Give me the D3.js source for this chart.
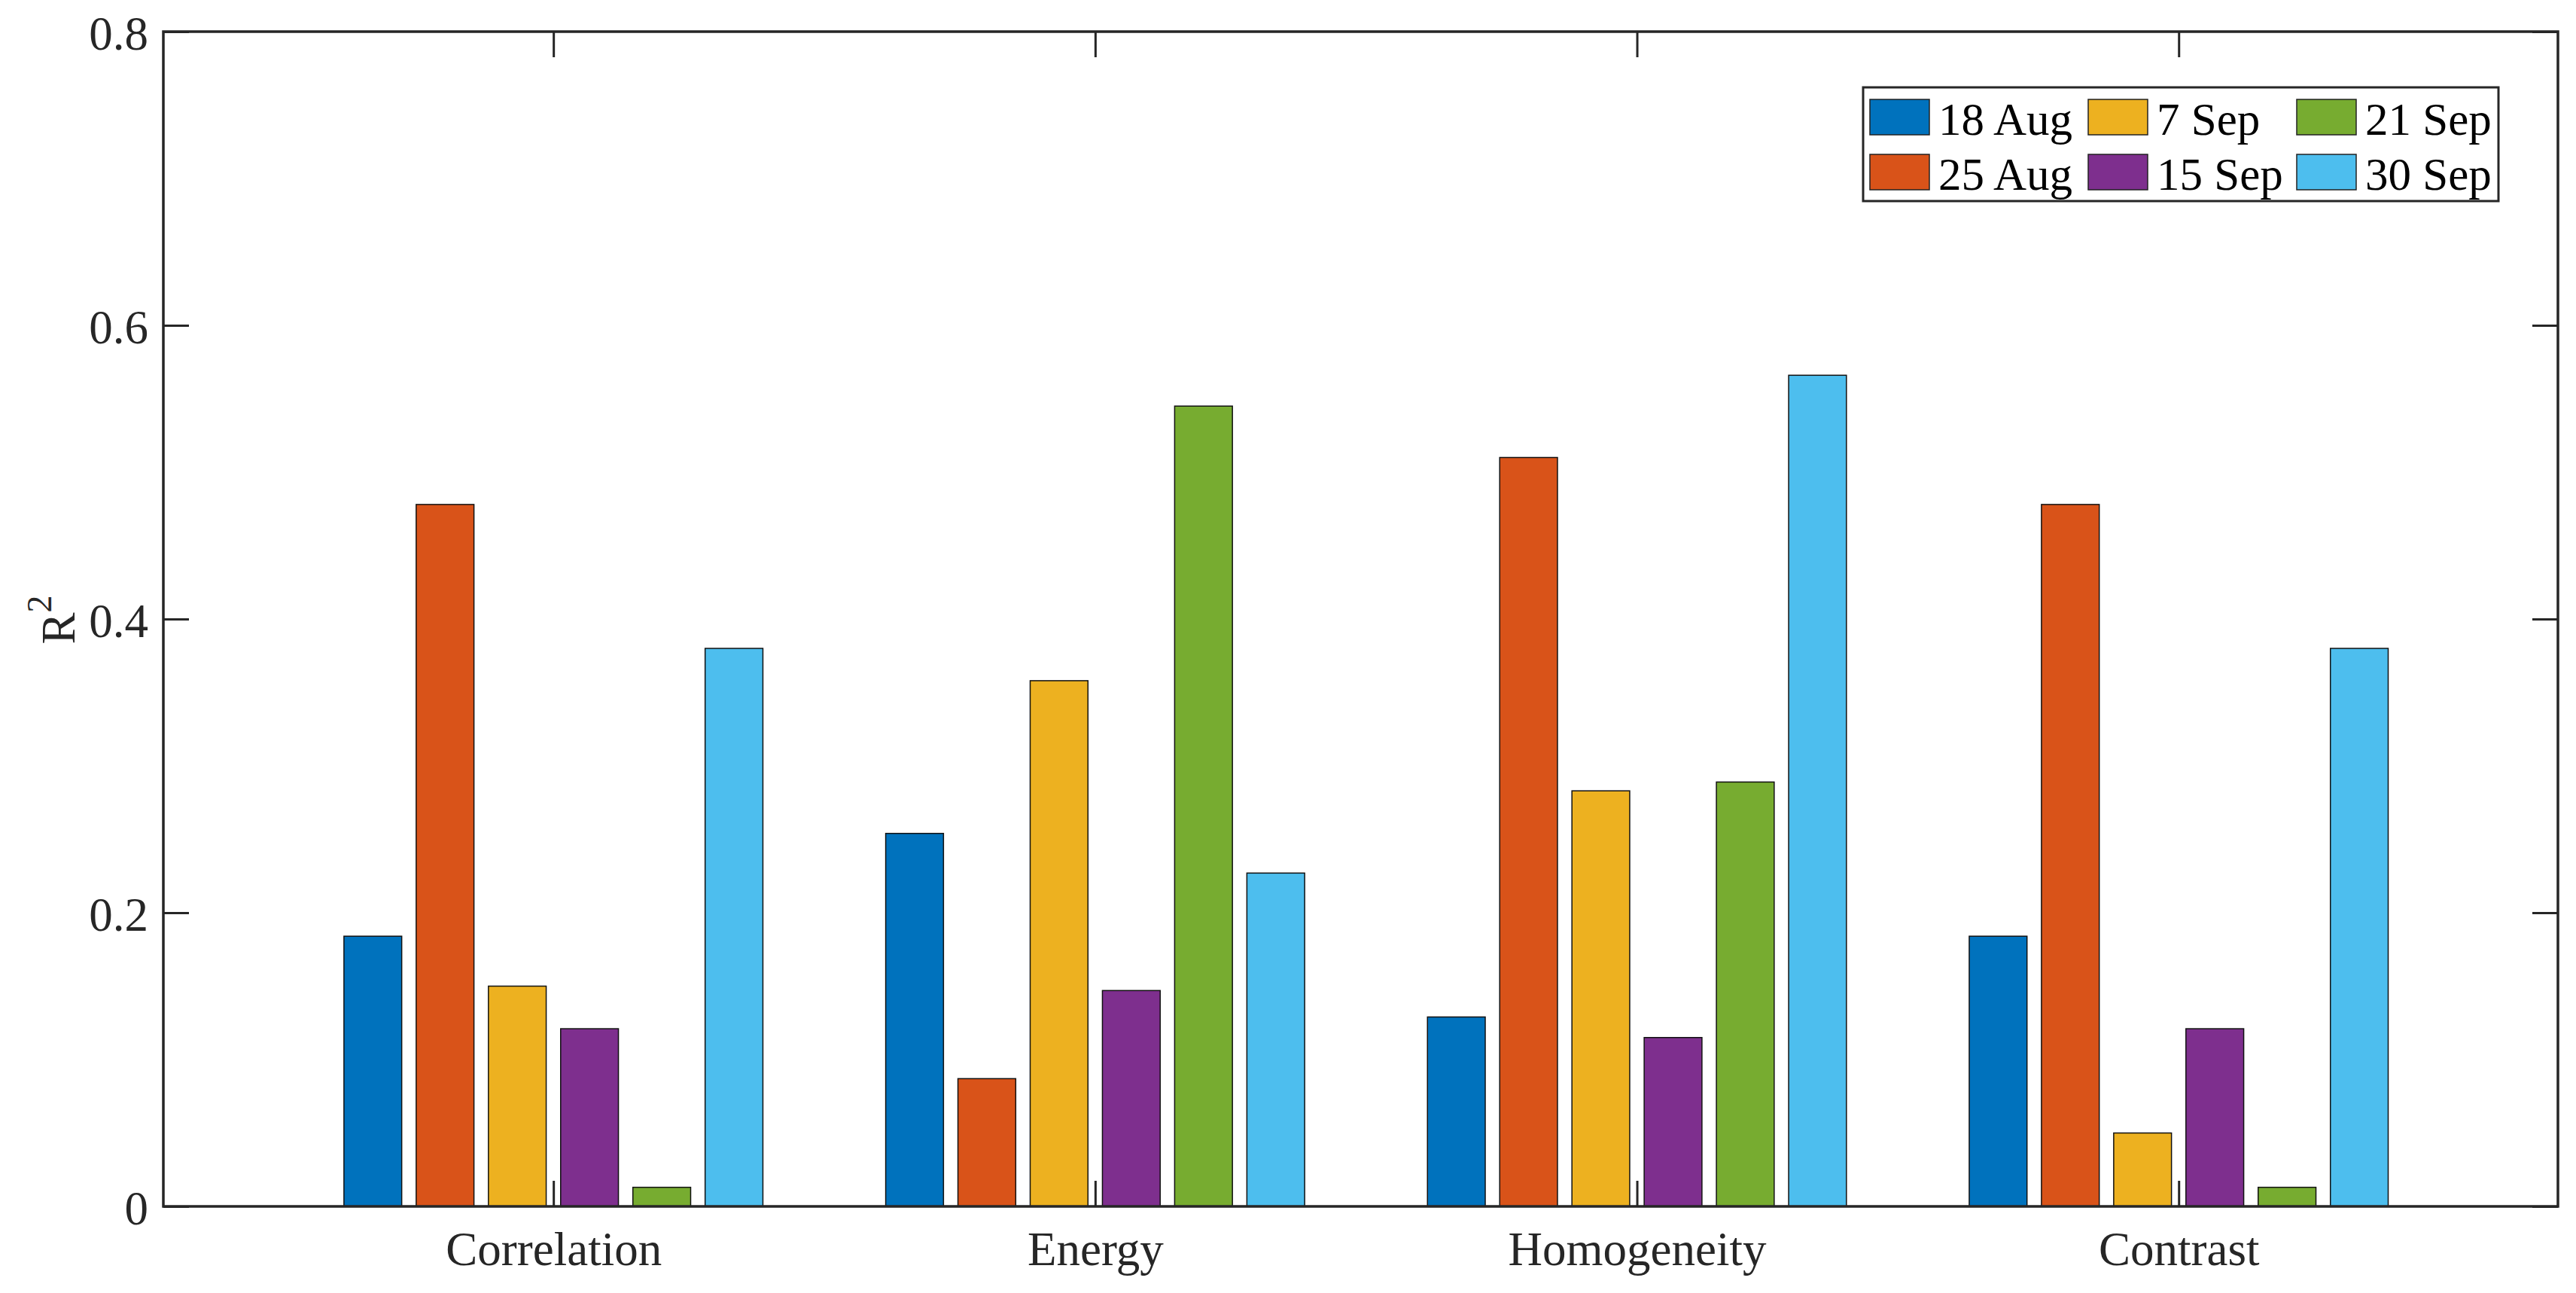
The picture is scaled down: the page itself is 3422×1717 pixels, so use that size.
<!DOCTYPE html>
<html>
<head>
<meta charset="utf-8">
<title>R2 by texture feature</title>
<script src="https://cdn.jsdelivr.net/npm/d3@7/dist/d3.min.js"></script>
<style>
  body { margin: 0; background: #fff; }
  svg { display: block; font-family: "Liberation Serif", "Times New Roman", serif; }
</style>
</head>
<body>
<script>
// data
var categories = ["Correlation", "Energy", "Homogeneity", "Contrast"];
var dates = ["18 Aug", "25 Aug", "7 Sep", "15 Sep", "21 Sep", "30 Sep"];
var colors = ["#0072BD", "#D95319", "#EDB120", "#7E2F8E", "#77AC30", "#4DBEEE"];

var aug18 = [0.184, 0.254, 0.129, 0.184];
var aug25 = [0.478, 0.087, 0.510, 0.478];
var sep07 = [0.150, 0.358, 0.283, 0.050];
var sep15 = [0.121, 0.147, 0.115, 0.121];
var sep21 = [0.013, 0.545, 0.289, 0.013];
var sep30 = [0.380, 0.227, 0.566, 0.380];
var series = [aug18, aug25, sep07, sep15, sep21, sep30];

var yTicks = [0, 0.2, 0.4, 0.6, 0.8];

var W = 3422, H = 1717;
var fs = 63, legFs = 61, tickLen = 34, axisCol = "#262626";

var svg = d3.select("body").append("svg")
    .attr("width", W)
    .attr("height", H);

var x = d3.scaleLinear().domain([0.28, 4.70]).range([217, 3398]);
var y = d3.scaleLinear().domain([0, 0.8]).range([1602, 42]);

// matlab style grouped bars
var groupW = 0.8, pitch = groupW / dates.length, barW = pitch * 0.8;

var bars = [];
series.forEach(function (vals, s) {
    vals.forEach(function (v, c) {
        bars.push({ s: s, c: c, v: v });
    });
});

svg.append("g").selectAll("rect")
    .data(bars)
    .enter().append("rect")
    .attr("x", function (d) { return x(d.c + 1 + (d.s - (dates.length - 1) / 2) * pitch - barW / 2); })
    .attr("width", function (d) { return x(barW) - x(0); })
    .attr("y", function (d) { return y(d.v); })
    .attr("height", function (d) { return y(0) - y(d.v); })
    .attr("fill", function (d) { return colors[d.s]; })
    .attr("stroke", "#111")
    .attr("stroke-width", 1.5);

// axes, ticks pointing in
function styleAxis(g) {
    g.attr("font-family", null).attr("font-size", null);
    g.select(".domain").remove();
    g.selectAll(".tick line").attr("stroke", axisCol).attr("stroke-width", 3);
    g.selectAll("text").attr("fill", axisCol).attr("font-size", fs);
}

svg.append("g")
    .attr("transform", "translate(" + x.range()[0] + ",0)")
    .call(d3.axisLeft(y).tickValues(yTicks).tickSize(-tickLen).tickPadding(20)
        .tickFormat(function (d) { return String(d); }))
    .call(styleAxis)
    .selectAll("text").attr("dy", "0.37em");

svg.append("g")
    .attr("transform", "translate(" + x.range()[1] + ",0)")
    .call(d3.axisRight(y).tickValues(yTicks).tickSize(-tickLen).tickFormat(""))
    .call(styleAxis);

svg.append("g")
    .attr("transform", "translate(0," + y(0) + ")")
    .call(d3.axisBottom(x).tickValues([1, 2, 3, 4]).tickSize(-tickLen)
        .tickFormat(function (d) { return categories[d - 1]; }))
    .call(styleAxis)
    .selectAll("text").attr("y", 78).attr("dy", 0);

svg.append("g")
    .attr("transform", "translate(0," + y(0.8) + ")")
    .call(d3.axisTop(x).tickValues([1, 2, 3, 4]).tickSize(-tickLen).tickFormat(""))
    .call(styleAxis);

// box
svg.append("rect")
    .attr("x", x.range()[0]).attr("y", y(0.8))
    .attr("width", x.range()[1] - x.range()[0])
    .attr("height", y(0) - y(0.8))
    .attr("fill", "none")
    .attr("stroke", axisCol)
    .attr("stroke-width", 3.5);

// y label R^2
var yl = svg.append("text")
    .attr("transform", "translate(99,823) rotate(-90)")
    .attr("text-anchor", "middle")
    .attr("font-size", fs)
    .attr("fill", axisCol);
yl.append("tspan").text("R");
yl.append("tspan").attr("dy", -31).attr("font-size", 46).text("2");

// legend, 2 rows x 3 columns, column-major
var leg = svg.append("g");
leg.append("rect")
    .attr("x", 2475).attr("y", 116)
    .attr("width", 844).attr("height", 151)
    .attr("fill", "#fff")
    .attr("stroke", axisCol)
    .attr("stroke-width", 3);

var colX = [2484, 2774, 3051], rowY = [132, 205];
var items = leg.selectAll("g.item")
    .data(dates)
    .enter().append("g")
    .attr("class", "item")
    .attr("transform", function (d, i) {
        return "translate(" + colX[Math.floor(i / 2)] + "," + rowY[i % 2] + ")";
    });

items.append("rect")
    .attr("width", 79).attr("height", 47)
    .attr("fill", function (d, i) { return colors[i]; })
    .attr("stroke", "#222")
    .attr("stroke-width", 1.5);

items.append("text")
    .attr("x", 91).attr("y", 47)
    .attr("font-size", legFs)
    .attr("fill", "#000")
    .text(function (d) { return d; });
</script>
</body>
</html>
